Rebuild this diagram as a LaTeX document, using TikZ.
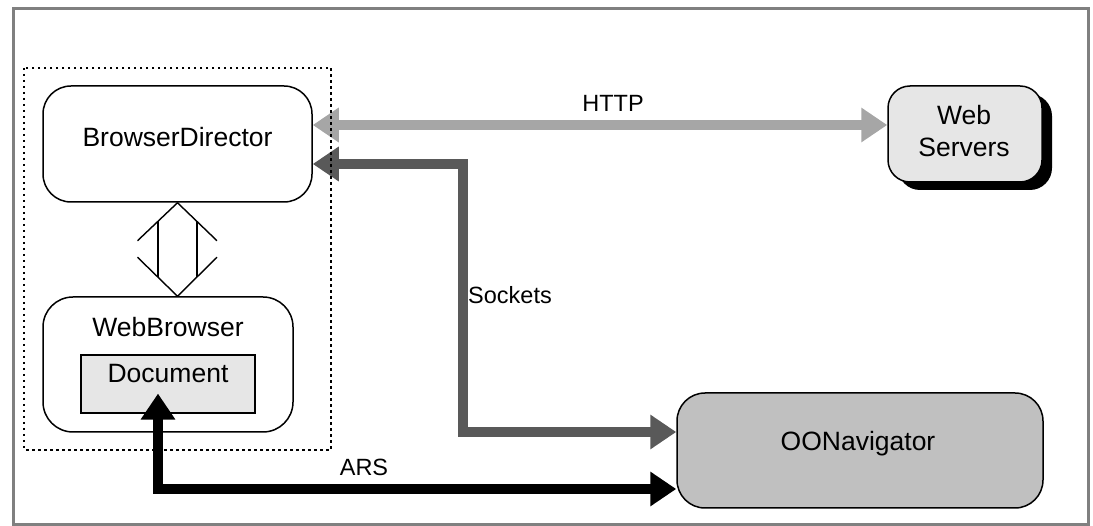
\documentclass[tikz,border=0pt]{standalone}
\usepackage{fontspec}
\setmainfont{Liberation Sans}
\usetikzlibrary{arrows.meta,calc}
\definecolor{framegray}{HTML}{808080}
\definecolor{lightfill}{HTML}{E6E6E6}
\definecolor{navfill}{HTML}{C0C0C0}
\definecolor{httpgray}{HTML}{A6A6A6}
\definecolor{sockgray}{HTML}{595959}
\begin{document}
\begin{tikzpicture}[x=1pt,y=-1pt,
  box/.style={draw=black,line width=1.5pt,rounded corners=28pt,inner sep=0pt},
  nodetext/.style={font=\fontsize{26.5pt}{32pt}\selectfont,inner sep=0pt,align=center},
  lbl/.style={font=\fontsize{23.5pt}{28pt}\selectfont,inner sep=0pt},
  fat/.style={line width=10pt,arrows={Triangle[length=26pt,width=33pt]-Triangle[length=26pt,width=33pt]}},
  hollow/.style={draw=black,line width=1.4pt},
]
\useasboundingbox (0,0) rectangle (1093,526);
\draw[framegray,line width=3pt] (13.5,9) rectangle (1088.5,524.5);

% nodes
\node[box,minimum width=269pt,minimum height=116pt] (bd) at (177.5,144) {};
\node[nodetext] (bdt) at (177.5,137) {BrowserDirector};

\node[box,rounded corners=30pt,minimum width=250pt,minimum height=135pt] (wb) at (168,364.5) {};
\node[nodetext] (wbt) at (168,327) {WebBrowser};
\node[draw=black,line width=1.2pt,fill=lightfill,minimum width=174pt,minimum height=58pt,inner sep=0pt] (doc) at (168,384) {};
\node[nodetext] (doct) at (168,374) {Document};

\fill[black,rounded corners=22pt] (898,94) rectangle (1052,190);
\node[box,rounded corners=22pt,fill=lightfill,minimum width=154pt,minimum height=96pt] (ws) at (965,134) {};
\node[nodetext] (wst) at (964,131) {Web\\Servers};

\node[box,fill=navfill,minimum width=366pt,minimum height=115pt] (oon) at (860,450.5) {};
\node[nodetext] (oont) at (858,444) {OONavigator};

% double hollow arrow between BrowserDirector and WebBrowser
\coordinate (wbtop) at (wb.north -| bd.south);
\draw[hollow] (bd.south) -- ++(-40,38) (bd.south) -- ++(39.5,38);
\draw[hollow] (wbtop) -- ++(-40,-39) (wbtop) -- ++(39.5,-39);
\draw[hollow] ($(bd.south)+(-19.5,18.5)$) -- ($(wbtop)+(-19.5,-19)$);
\draw[hollow] ($(bd.south)+(19.5,18.5)$) -- ($(wbtop)+(19.5,-19)$);

% connectors
\coordinate (httpS) at ($(bd.east)+(0,-19)$);
\coordinate (httpE) at ($(ws.west)+(0,-9)$);
\draw[fat,httpgray] (httpS) -- (httpE);

\coordinate (sockS) at ($(bd.east)+(0,20)$);
\coordinate (sockE) at ($(oon.west)+(0,-18.5)$);
\draw[fat,sockgray] (sockS) -- ++(150,0) |- (sockE);

\coordinate (arsS) at ($(doc.south)+(-10,-20)$);
\coordinate (arsE) at ($(oon.west)+(0,38.5)$);
\draw[fat,black] (arsS) |- (arsE);

% labels
\node[lbl] (lhttp) at (613,103) {HTTP};
\node[lbl,anchor=west] (lsock) at (468,295) {Sockets};
\node[lbl] (lars) at (364,467) {ARS};

% dotted group box
\draw[black,line width=1.5pt,dash pattern=on 2.5pt off 3.5pt] (24,68) rectangle (331,450);
\end{tikzpicture}
\end{document}
